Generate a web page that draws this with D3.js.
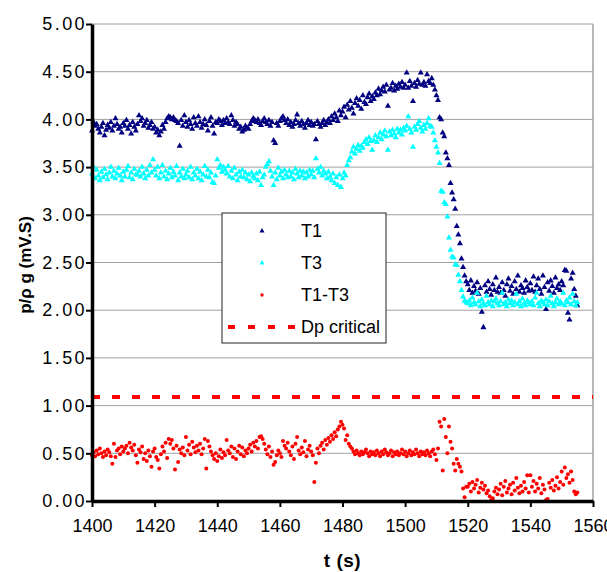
<!DOCTYPE html>
<html>
<head>
<meta charset="utf-8">
<script src="https://cdn.jsdelivr.net/npm/d3@7"></script>
<style>
  body { margin: 0; background: #fff; }
  text { font-family: "Liberation Sans", Arial, sans-serif; fill: #000; }
</style>
</head>
<body>
<div id="chart"></div>
<script>
// sampling: one reading every 0.5 s starting at 1400 s
const tStart = 1400, tStep = 0.5;
const xTicks = [1400, 1420, 1440, 1460, 1480, 1500, 1520, 1540, 1560];
const yTicks = [0, 0.5, 1, 1.5, 2, 2.5, 3, 3.5, 4, 4.5, 5];
const dpCritical = 1.09;

const t1 = [
  3.88,3.97,3.93,3.95,3.90,3.86,3.92,3.96,3.83,3.89,3.94,3.91,3.97,3.88,3.93,4.01,3.95,3.90,3.92,3.86,
  3.96,3.93,3.99,3.90,3.94,3.85,3.97,3.92,3.88,3.95,4.04,3.98,4.01,3.93,3.96,3.99,3.91,3.94,3.97,3.90,
  3.92,3.86,3.89,3.83,3.87,3.94,3.90,3.97,4.01,4.03,4.02,4.00,4.02,3.99,3.98,3.96,3.72,3.99,3.93,4.04,
  3.97,3.92,3.99,3.95,3.90,4.02,3.96,3.93,4.03,3.97,3.91,3.95,4.00,3.94,3.88,3.98,4.02,3.93,3.85,3.97,
  3.96,4.00,3.98,3.94,3.99,3.96,4.01,3.97,3.95,4.04,3.99,3.93,3.97,3.95,3.90,3.92,3.87,3.89,3.93,3.91,
  3.90,3.95,3.98,4.01,3.99,3.97,4.00,3.96,3.94,3.98,4.01,3.97,3.95,3.99,3.93,3.97,3.78,3.75,3.96,3.93,
  3.98,4.01,4.03,3.99,3.96,4.00,3.94,3.97,3.92,3.95,3.99,4.05,3.96,3.93,3.98,3.95,3.91,3.96,3.99,3.94,
  3.97,3.93,3.95,3.79,3.98,3.95,3.92,3.96,3.99,3.94,3.97,4.00,3.96,4.03,3.99,4.06,4.02,3.98,4.09,4.04,
  4.08,4.13,4.02,4.15,4.10,4.19,4.12,4.06,4.17,4.22,4.14,4.20,4.11,4.25,4.18,4.16,4.23,4.27,4.19,4.24,
  4.21,4.28,4.25,4.32,4.26,4.30,4.34,4.29,4.36,4.14,4.31,4.33,4.38,4.30,4.35,4.32,4.37,4.34,4.39,4.33,
  4.36,4.49,4.33,4.40,4.35,4.19,4.38,4.34,4.41,4.37,4.49,4.36,4.39,4.35,4.47,4.40,4.38,4.43,4.36,4.31,
  4.25,4.20,4.02,4.00,3.86,3.82,3.65,3.59,3.52,3.33,3.23,3.16,3.06,2.88,2.79,2.70,2.54,2.45,2.36,2.30,
  2.27,2.21,2.31,2.18,2.25,2.20,2.29,2.17,2.23,1.98,1.82,2.26,2.19,2.30,2.22,2.16,2.27,2.21,2.34,2.19,
  2.24,2.18,2.29,2.21,2.15,2.27,2.33,2.20,2.25,2.17,2.30,2.22,2.36,2.19,2.26,2.23,2.18,2.31,2.24,2.20,
  2.28,2.21,2.35,2.19,2.26,2.33,2.22,2.17,2.36,2.24,2.01,2.29,2.20,2.31,2.25,2.18,2.34,2.23,2.27,2.21,
  2.30,2.26,2.42,2.41,1.97,1.90,2.33,2.39,2.22,2.15,2.05
];

const t3 = [
  3.43,3.50,3.38,3.47,3.41,3.36,3.45,3.39,3.48,3.42,3.37,3.44,3.50,3.40,3.46,3.38,3.43,3.49,3.41,3.36,
  3.45,3.40,3.47,3.51,3.39,3.44,3.37,3.48,3.42,3.42,3.46,3.40,3.50,3.43,3.38,3.47,3.41,3.52,3.44,3.58,
  3.47,3.41,3.50,3.38,3.44,3.52,3.40,3.46,3.37,3.43,3.49,3.39,3.45,3.41,3.51,3.36,3.44,3.40,3.48,3.38,
  3.42,3.46,3.39,3.50,3.37,3.44,3.41,3.48,3.38,3.45,3.36,3.42,3.51,3.40,3.47,3.39,3.44,3.34,3.33,3.41,
  3.58,3.49,3.52,3.45,3.50,3.47,3.43,3.51,3.40,3.46,3.38,3.49,3.42,3.36,3.45,3.40,3.47,3.39,3.44,3.37,
  3.42,3.35,3.44,3.40,3.38,3.43,3.36,3.45,3.31,3.39,3.42,3.50,3.53,3.56,3.46,3.40,3.31,3.44,3.37,3.49,
  3.41,3.45,3.38,3.47,3.42,3.39,3.46,3.40,3.44,3.37,3.48,3.43,3.39,3.46,3.41,3.45,3.38,3.44,3.40,3.47,
  3.42,3.46,3.39,3.59,3.48,3.44,3.50,3.41,3.46,3.43,3.38,3.45,3.40,3.36,3.43,3.33,3.39,3.31,3.42,3.29,
  3.38,3.44,3.41,3.52,3.57,3.60,3.66,3.71,3.64,3.69,3.73,3.67,3.72,3.70,3.76,3.79,3.74,3.81,3.77,3.68,
  3.78,3.83,3.76,3.81,3.86,3.79,3.84,3.88,3.82,3.68,3.87,3.83,3.89,3.85,3.81,3.90,3.86,3.89,3.84,3.91,
  3.88,3.93,4.03,3.90,3.86,3.71,3.92,3.89,3.95,3.98,3.91,3.87,3.94,3.90,3.96,4.01,3.93,3.92,3.86,3.78,
  3.71,3.65,3.54,3.25,3.24,3.13,3.11,2.98,2.76,2.63,2.56,2.55,2.48,2.47,2.37,2.30,2.21,2.14,2.10,2.08,
  2.07,2.10,2.05,2.13,2.08,2.06,2.18,2.09,2.04,2.11,2.07,2.05,2.15,2.08,2.06,2.10,2.04,2.09,2.12,2.07,
  2.05,2.09,2.18,2.06,2.08,2.04,2.11,2.07,2.10,2.05,2.08,2.17,2.06,2.09,2.04,2.12,2.07,2.05,2.10,2.08,
  2.06,2.09,2.05,2.13,2.18,2.07,2.04,2.10,2.08,2.06,2.11,2.05,2.09,2.15,2.07,2.04,2.08,2.12,2.06,2.09,
  2.07,2.18,2.05,2.10,2.08,2.13,2.06,2.17,2.09,2.05,2.08
];

const t1t3 = [
  0.48,0.51,0.47,0.53,0.49,0.55,0.50,0.46,0.52,0.48,0.54,0.51,0.47,0.39,0.60,0.46,0.53,0.55,0.49,0.57,
  0.52,0.55,0.58,0.50,0.61,0.56,0.53,0.59,0.48,0.40,0.54,0.51,0.57,0.44,0.50,0.42,0.53,0.47,0.36,0.52,
  0.55,0.46,0.43,0.34,0.49,0.57,0.52,0.61,0.45,0.65,0.60,0.64,0.55,0.33,0.58,0.41,0.54,0.50,0.56,0.48,
  0.67,0.53,0.59,0.49,0.62,0.56,0.51,0.58,0.53,0.60,0.49,0.55,0.65,0.34,0.63,0.57,0.52,0.48,0.44,0.50,
  0.42,0.47,0.54,0.45,0.51,0.48,0.64,0.53,0.50,0.57,0.46,0.55,0.44,0.52,0.58,0.49,0.56,0.47,0.53,0.50,
  0.55,0.59,0.52,0.61,0.57,0.63,0.55,0.67,0.68,0.65,0.60,0.54,0.49,0.57,0.46,0.52,0.38,0.41,0.48,0.53,
  0.50,0.46,0.63,0.58,0.55,0.61,0.52,0.48,0.57,0.44,0.60,0.67,0.53,0.49,0.56,0.51,0.63,0.47,0.54,0.58,
  0.52,0.48,0.20,0.40,0.55,0.50,0.58,0.61,0.54,0.64,0.59,0.66,0.62,0.69,0.65,0.72,0.68,0.75,0.78,0.83,
  0.80,0.76,0.64,0.69,0.60,0.57,0.55,0.52,0.49,0.53,0.50,0.48,0.52,0.49,0.51,0.54,0.50,0.47,0.52,0.49,
  0.51,0.48,0.53,0.50,0.47,0.52,0.49,0.54,0.51,0.48,0.50,0.53,0.47,0.51,0.49,0.52,0.48,0.50,0.54,0.49,
  0.52,0.47,0.50,0.53,0.48,0.51,0.49,0.54,0.50,0.47,0.52,0.49,0.51,0.48,0.53,0.50,0.47,0.52,0.54,0.49,
  0.43,0.55,0.83,0.78,0.32,0.86,0.67,0.50,0.78,0.62,0.55,0.39,0.32,0.44,0.39,0.36,0.31,0.13,0.04,0.15,
  0.15,0.18,0.10,0.20,0.13,0.17,0.22,0.09,0.14,0.19,0.12,0.16,0.08,0.11,0.05,0.01,0.03,0.10,0.14,0.07,
  0.12,0.18,0.06,0.15,0.21,0.09,0.13,0.17,0.07,0.19,0.11,0.24,0.14,0.08,0.16,0.10,0.20,0.13,0.27,0.09,
  0.27,0.15,0.21,0.10,0.18,0.13,0.24,0.08,0.17,0.12,0.01,0.02,0.19,0.14,0.22,0.11,0.16,0.25,0.13,0.20,
  0.31,0.17,0.35,0.24,0.28,0.19,0.31,0.22,0.10,0.07,0.09
];

const colT1 = "#000080", colT3 = "#00ffff", colDiff = "#ff0000";

const margin = { top: 24, right: 14, bottom: 71, left: 92 };
const width = 607 - margin.left - margin.right;
const height = 572 - margin.top - margin.bottom;

const svg = d3.select("#chart")
  .append("svg")
  .attr("width", 607)
  .attr("height", 572)
  .append("g")
  .attr("transform", `translate(${margin.left},${margin.top})`);

const xScale = d3.scaleLinear().domain([1400, 1560]).range([0, width]);
const yScale = d3.scaleLinear().domain([0, 5]).range([height, 0]);

const toPoints = arr => arr.map((v, i) => ({ t: tStart + i * tStep, v }));

// gridlines + plot frame
svg.append("g")
  .selectAll("line")
  .data(yTicks.filter(d => d > 0))
  .join("line")
  .attr("x1", 0).attr("x2", width)
  .attr("y1", d => yScale(d)).attr("y2", d => yScale(d))
  .attr("stroke", "#a0a0a0").attr("stroke-width", 1);

svg.append("line")
  .attr("x1", width).attr("x2", width)
  .attr("y1", 0).attr("y2", height)
  .attr("stroke", "#a0a0a0").attr("stroke-width", 1.5);

// series
const tri = d3.symbol(d3.symbolTriangle, 16);

svg.append("g")
  .selectAll("path")
  .data(toPoints(t1))
  .join("path")
  .attr("d", tri)
  .attr("fill", colT1)
  .attr("transform", d => `translate(${xScale(d.t)},${yScale(d.v)})`);

svg.append("g")
  .selectAll("path")
  .data(toPoints(t3))
  .join("path")
  .attr("d", tri)
  .attr("fill", colT3)
  .attr("transform", d => `translate(${xScale(d.t)},${yScale(d.v)})`);

svg.append("g")
  .selectAll("circle")
  .data(toPoints(t1t3))
  .join("circle")
  .attr("cx", d => xScale(d.t))
  .attr("cy", d => yScale(d.v))
  .attr("r", 2)
  .attr("fill", colDiff);

svg.append("line")
  .attr("x1", xScale(1400)).attr("x2", xScale(1560))
  .attr("y1", yScale(dpCritical)).attr("y2", yScale(dpCritical))
  .attr("stroke", colDiff).attr("stroke-width", 4)
  .attr("stroke-dasharray", "8,12");

// axes
const xAxis = d3.axisBottom(xScale).tickValues(xTicks).tickFormat(d3.format("d"))
  .tickSize(6).tickSizeOuter(0).tickPadding(12);
const yAxis = d3.axisLeft(yScale).tickValues(yTicks).tickFormat(d3.format(".2f"))
  .tickSize(6).tickSizeOuter(0).tickPadding(3);

const gx = svg.append("g")
  .attr("class", "axis x-axis")
  .attr("transform", `translate(0,${height})`)
  .call(xAxis);
const gy = svg.append("g")
  .attr("class", "axis y-axis")
  .call(yAxis);

[gx, gy].forEach(g => {
  g.select(".domain").attr("stroke", "#000").attr("stroke-width", 3.5);
  g.selectAll(".tick line").attr("stroke", "#000").attr("stroke-width", 2);
  g.selectAll(".tick text").attr("font-size", 18).attr("fill", "#000")
    .attr("font-family", "Liberation Sans, Arial, sans-serif");
});
gy.selectAll(".tick text").attr("letter-spacing", 2.4).attr("dx", "4");

// axis titles
svg.append("text")
  .attr("x", width / 2)
  .attr("y", height + 66)
  .attr("text-anchor", "middle")
  .attr("font-size", 19)
  .attr("font-weight", "bold")
  .attr("letter-spacing", 0.5)
  .text("t (s)");

svg.append("text")
  .attr("transform", `translate(${31 - margin.left},${265 - margin.top}) rotate(-90)`)
  .attr("text-anchor", "middle")
  .attr("font-size", 17)
  .attr("font-weight", "bold")
  .text("p/ρ g (mV.S)");

// legend
const legend = svg.append("g").attr("transform", `translate(${222 - margin.left},${213 - margin.top})`);
legend.append("rect")
  .attr("width", 164).attr("height", 130)
  .attr("fill", "#fff").attr("stroke", "#222").attr("stroke-width", 1);

const legendItems = [
  { label: "T1", type: "tri", color: colT1 },
  { label: "T3", type: "tri", color: colT3 },
  { label: "T1-T3", type: "dot", color: colDiff },
  { label: "Dp critical", type: "dash", color: colDiff }
];

legendItems.forEach((item, i) => {
  const cy = 18 + i * 32;
  if (item.type === "tri") {
    legend.append("path")
      .attr("d", d3.symbol(d3.symbolTriangle, 11)())
      .attr("fill", item.color)
      .attr("transform", `translate(40,${cy})`);
  } else if (item.type === "dot") {
    legend.append("circle")
      .attr("cx", 40).attr("cy", cy).attr("r", 1.7).attr("fill", item.color);
  } else {
    legend.append("line")
      .attr("x1", 6).attr("x2", 73)
      .attr("y1", cy).attr("y2", cy)
      .attr("stroke", item.color).attr("stroke-width", 4)
      .attr("stroke-dasharray", "7,13");
  }
  legend.append("text")
    .attr("x", 79)
    .attr("y", cy)
    .attr("dy", "0.35em")
    .attr("font-size", 18)
    .text(item.label);
});
</script>
</body>
</html>
